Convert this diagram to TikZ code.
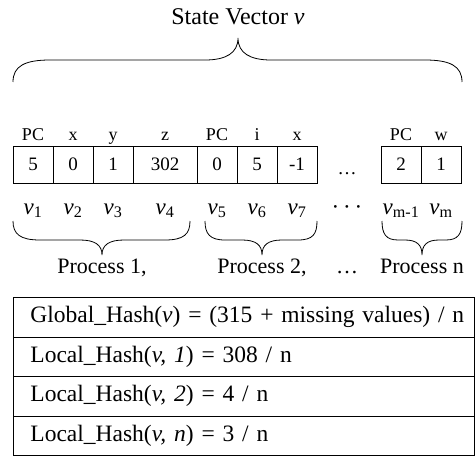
\documentclass[tikz,border=0pt]{standalone}
\usepackage{fontspec}
\setmainfont{Liberation Serif}
\newcommand{\fsz}[1]{\fontsize{#1}{#1}\selectfont}
\begin{document}
\begin{tikzpicture}[x=1pt,y=-1pt,
  cell/.style={draw, line width=0.8pt, inner sep=0pt, minimum height=37pt, minimum width=40pt, font=\fsz{19pt}},
  lab/.style={inner sep=0pt, anchor=base, font=\fsz{18pt}},
  vlab/.style={inner sep=0pt, anchor=base, font=\fsz{23pt}},
  proc/.style={inner sep=0pt, anchor=base, font=\fsz{22pt}},
  title/.style={inner sep=0pt, anchor=base, font=\fsz{24pt}},
  brc/.style={line width=0.8pt},
  hrow/.style={draw, line width=0.8pt, anchor=north west, minimum height=39.5pt, inner sep=0pt, text width=461pt, align=left, font=\fsz{23.5pt}}
]
\useasboundingbox (0,0) rectangle (475,476);

% title
\node[title] (title) at (238,25) {State Vector \textit{v}};
% big brace
\draw[brc] (13,82) .. controls (13,66) and (25,60) .. (50,60) -- (205,60)
  .. controls (226,60) and (238,53) .. (238,38)
  .. controls (238,53) and (250,60) .. (271,60) -- (425,60)
  .. controls (450,60) and (462,66) .. (462,82);

% labels above cells
\node[lab] (l1) at (33,140) {PC};
\node[lab] (l2) at (73,140) {x};
\node[lab] (l3) at (113,140) {y};
\node[lab] (l4) at (165,140) {z};
\node[lab] (l5) at (217,140) {PC};
\node[lab] (l6) at (257,140) {i};
\node[lab] (l7) at (297,140) {x};
\node[lab] (l8) at (401,140) {PC};
\node[lab] (l9) at (441,140) {w};

% cells
\node[cell] (c1) at (33,164.5) {5};
\node[cell] (c2) at (73,164.5) {0};
\node[cell] (c3) at (113,164.5) {1};
\node[cell, minimum width=64pt] (c4) at (165,164.5) {302};
\node[cell] (c5) at (217,164.5) {0};
\node[cell] (c6) at (257,164.5) {5};
\node[cell] (c7) at (297,164.5) {-1};
\node[lab] (cd) at (347,174) {\fsz{19pt}\textellipsis};
\node[cell] (c8) at (401,164.5) {2};
\node[cell] (c9) at (441,164.5) {1};

% v labels
\node[vlab] (v1) at (33,214) {\textit{v}\textsubscript{1}};
\node[vlab] (v2) at (73,214) {\textit{v}\textsubscript{2}};
\node[vlab] (v3) at (113,214) {\textit{v}\textsubscript{3}};
\node[vlab] (v4) at (165,214) {\textit{v}\textsubscript{4}};
\node[vlab] (v5) at (217,214) {\textit{v}\textsubscript{5}};
\node[vlab] (v6) at (257,214) {\textit{v}\textsubscript{6}};
\node[vlab] (v7) at (297,214) {\textit{v}\textsubscript{7}};
\node[vlab] (vd) at (347,214) {·\,·\,·};
\node[vlab] (v8) at (401,214) {\textit{v}\textsubscript{m-1}};
\node[vlab] (v9) at (441,214) {\textit{v}\textsubscript{m}};

% lower braces
\draw[brc] (13,221) .. controls (13,234) and (20,240) .. (40,240) -- (80,240)
  .. controls (95,240) and (102,245) .. (102,255)
  .. controls (102,245) and (109,240) .. (124,240) -- (165,240)
  .. controls (184,240) and (190,234) .. (190,221);
\draw[brc] (205,221) .. controls (205,234) and (210,240) .. (225,240) -- (242,240)
  .. controls (256,240) and (262,245) .. (262,255)
  .. controls (262,245) and (268,240) .. (282,240) -- (298,240)
  .. controls (313,240) and (317,234) .. (317,221);
\draw[brc] (382,221) .. controls (382,234) and (386,240) .. (398,240) -- (405,240)
  .. controls (417,240) and (422,245) .. (422,255)
  .. controls (422,245) and (427,240) .. (439,240) -- (446,240)
  .. controls (458,240) and (462,234) .. (462,221);

% process labels
\node[proc] (p1) at (102,273) {Process 1,};
\node[proc] (p2) at (262,273) {Process 2,};
\node[proc] (pd) at (347,273) {\textellipsis};
\node[proc] (p3) at (422,273) {Process n};

% table
\node[hrow] (t1) at (13,297) {\hspace*{17pt}Global\_Hash(\textit{v}) = (315 + missing values) / n};
\node[hrow] (t2) at (13,336.5) {\hspace*{17pt}Local\_Hash(\textit{v, 1}) = 308 / n};
\node[hrow] (t3) at (13,376) {\hspace*{17pt}Local\_Hash(\textit{v, 2}) = 4 / n};
\node[hrow] (t4) at (13,415.5) {\hspace*{17pt}Local\_Hash(\textit{v, n}) = 3 / n};
\end{tikzpicture}
\end{document}
